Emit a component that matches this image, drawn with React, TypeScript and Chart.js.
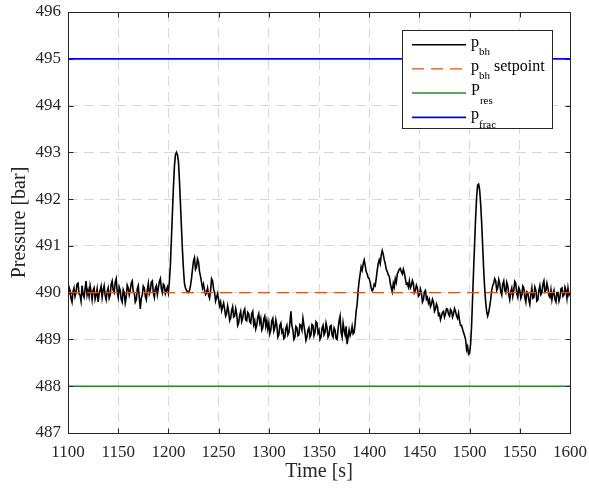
import React, { useEffect, useRef } from "react";
import { Chart, registerables } from "chart.js";

Chart.register(...registerables);

// ---- data ----
const timeStart = 1100;
const timeStep = 1;
const pBh = [
  // 1100
  489.85, 490.12, 490.05, 489.88, 489.8, 490.02, 490.1, 489.92, 490.0, 490.18,
  490.2, 489.98, 489.95, 489.82, 490.15, 489.96, 489.9, 490.08, 490.25, 489.95,
  // 1120
  490.05, 489.92, 490.15, 490.02, 489.85, 490.05, 490.1, 489.86, 489.95, 490.08,
  489.8, 489.98, 490.05, 490.14, 489.9, 490.06, 490.15, 489.94, 489.85, 490.02,
  // 1140
  490.1, 489.88, 489.95, 490.18, 490.25, 490.05, 490.0, 490.22, 490.3, 490.02,
  489.9, 490.12, 490.05, 489.86, 489.8, 490.06, 490.0, 489.78, 489.9, 490.16,
  // 1160
  490.1, 489.95, 490.05, 490.2, 490.25, 490.02, 490.0, 489.8, 489.85, 490.08,
  490.15, 489.9, 489.65, 489.88, 489.95, 490.14, 490.1, 489.92, 489.85, 490.06,
  // 1180
  490.2, 489.98, 490.05, 490.22, 490.25, 490.0, 489.9, 490.1, 490.15, 489.96,
  490.1, 490.24, 490.3, 490.08, 490.0, 490.18, 490.15, 489.98, 490.05, 490.12,
  // 1200
  490.0, 490.25, 490.6, 491.15, 491.7, 492.25, 492.7, 492.95, 493.0, 492.95,
  492.8, 492.4, 491.9, 491.4, 490.9, 490.5, 490.2, 490.1, 490.05, 490.02,
  // 1220
  490.0, 490.05, 490.15, 490.3, 490.5, 490.68, 490.75, 490.5, 490.55, 490.72,
  490.65, 490.45, 490.35, 490.22, 490.1, 490.18, 490.05, 489.96, 490.0, 490.1,
  // 1240
  489.95, 489.88, 490.05, 490.3, 490.25, 490.08, 490.0, 489.82, 489.9, 489.98,
  489.85, 489.72, 489.8, 489.62, 489.7, 489.78, 489.65, 489.5, 489.55, 489.72,
  // 1260
  489.6, 489.4, 489.45, 489.62, 489.7, 489.48, 489.5, 489.66, 489.55, 489.3,
  489.35, 489.52, 489.6, 489.38, 489.45, 489.6, 489.65, 489.42, 489.4, 489.58,
  // 1280
  489.55, 489.38, 489.35, 489.55, 489.6, 489.32, 489.4, 489.22, 489.3, 489.48,
  489.55, 489.36, 489.45, 489.2, 489.25, 489.44, 489.5, 489.28, 489.4, 489.22,
  // 1300
  489.35, 489.12, 489.2, 489.4, 489.45, 489.18, 489.25, 489.42, 489.3, 489.05,
  489.1, 489.3, 489.35, 489.15, 489.2, 489.02, 489.05, 489.24, 489.3, 489.1,
  // 1320
  489.15, 489.35, 489.6, 489.3, 489.2, 489.0, 489.05, 489.28, 489.25, 489.08,
  489.1, 489.32, 489.3, 489.2, 489.45, 489.3, 489.15, 488.98, 489.05, 489.2,
  // 1340
  489.25, 489.05, 489.1, 489.32, 489.3, 489.08, 489.15, 489.38, 489.35, 489.14,
  489.2, 489.0, 489.05, 489.24, 489.3, 489.1, 489.15, 489.35, 489.25, 489.05,
  // 1360
  489.1, 489.28, 489.3, 489.1, 489.05, 489.25, 489.2, 489.02, 489.0, 489.22,
  489.4, 489.5, 489.15, 489.05, 489.35, 489.2, 489.1, 489.28, 488.9, 489.05,
  // 1380
  489.2, 489.08, 489.15, 489.28, 489.12, 489.15, 489.35, 489.6, 489.75, 490.05,
  490.25, 490.4, 490.55, 490.48, 490.62, 490.7, 490.58, 490.45, 490.4, 490.32,
  // 1400
  490.3, 490.22, 490.1, 490.04, 490.08, 490.18, 490.15, 490.3, 490.48, 490.62,
  490.7, 490.62, 490.8, 490.9, 490.82, 490.7, 490.62, 490.5, 490.45, 490.38,
  // 1420
  490.35, 490.2, 490.1, 490.02, 490.2, 490.12, 490.3, 490.22, 490.4, 490.45,
  490.5, 490.52, 490.45, 490.4, 490.5, 490.42, 490.3, 490.18, 490.2, 490.12,
  // 1440
  490.25, 490.1, 490.15, 490.26, 490.2, 490.0, 490.05, 490.16, 490.1, 489.92,
  489.95, 490.08, 490.0, 489.8, 489.85, 490.02, 490.05, 489.86, 489.9, 489.78,
  // 1460
  489.85, 489.7, 489.75, 489.86, 489.8, 489.6, 489.65, 489.76, 489.7, 489.52,
  489.55, 489.42, 489.5, 489.58, 489.6, 489.48, 489.55, 489.66, 489.65, 489.54,
  // 1480
  489.5, 489.64, 489.6, 489.48, 489.55, 489.66, 489.6, 489.5, 489.45, 489.56,
  489.4, 489.3, 489.3, 489.22, 489.15, 489.08, 489.0, 488.78, 488.85, 488.68,
  // 1500
  488.7, 488.9, 489.3, 489.9, 490.5, 491.05, 491.6, 492.05, 492.3, 492.32,
  492.2, 491.9, 491.5, 491.0, 490.5, 490.1, 489.8, 489.6, 489.5, 489.58,
  // 1520
  489.7, 489.85, 490.05, 490.15, 490.2, 490.3, 490.25, 490.05, 490.1, 490.28,
  490.2, 490.02, 489.95, 490.18, 490.25, 490.05, 490.0, 490.22, 490.15, 489.96,
  // 1540
  489.85, 490.02, 490.1, 489.92, 490.05, 490.24, 490.2, 489.98, 489.9, 490.1,
  490.05, 489.88, 489.95, 490.14, 490.1, 489.9, 489.8, 490.02, 490.0, 489.84,
  // 1560
  489.75, 489.96, 490.1, 489.88, 489.9, 490.12, 490.05, 489.82, 489.85, 490.05,
  490.15, 489.96, 490.0, 490.18, 490.25, 490.02, 490.05, 490.2, 490.1, 489.94,
  // 1580
  489.9, 490.06, 489.85, 489.98, 490.05, 489.86, 489.8, 490.0, 490.0, 489.82,
  489.9, 490.08, 490.1, 489.92, 489.95, 490.12, 490.05, 489.88, 490.1, 489.95,
  // 1600
  490.0,
];
const pBhSetpoint = 490;
const pRes = 488;
const pFrac = 495;
const xRange = [1100, 1600];
const yRange = [487, 496];
const xTickStep = 50;
const yTickStep = 1;
const xTitle = "Time [s]";
const yTitle = "Pressure [bar]";
const legendItems = [
  { main: "p", sub: "bh", rest: "" },
  { main: "p", sub: "bh", rest: " setpoint" },
  { main: "P", sub: "res", rest: "" },
  { main: "p", sub: "frac", rest: "" },
];

const COLORS = ["#000000", "#D95319", "#2A862A", "#0000FF"];
const WIDTHS = [1.6, 1.3, 1.5, 1.8];
const DASHES: number[][] = [[], [12, 7], [], []];
const SERIF = "'Liberation Serif', 'Times New Roman', serif";
const AXIS_COLOR = "#262626";

const framePlugin = {
  id: "frame",
  afterDraw(chart: any) {
    const { ctx, chartArea: a, scales } = chart;
    const L = Math.round(a.left) + 0.5;
    const R = Math.round(a.right) + 0.5;
    const T = Math.round(a.top) + 0.5;
    const B = Math.round(a.bottom) + 0.5;
    ctx.save();
    ctx.strokeStyle = AXIS_COLOR;
    ctx.lineWidth = 1;
    ctx.setLineDash([]);
    ctx.strokeRect(L, T, R - L, B - T);
    ctx.beginPath();
    const tl = 5;
    for (const t of scales.x.ticks) {
      const px = Math.round(scales.x.getPixelForValue(t.value)) + 0.5;
      ctx.moveTo(px, B);
      ctx.lineTo(px, B - tl);
      ctx.moveTo(px, T);
      ctx.lineTo(px, T + tl);
    }
    for (const t of scales.y.ticks) {
      const py = Math.round(scales.y.getPixelForValue(t.value)) + 0.5;
      ctx.moveTo(L, py);
      ctx.lineTo(L + tl, py);
      ctx.moveTo(R, py);
      ctx.lineTo(R - tl, py);
    }
    ctx.stroke();

    // axis titles
    ctx.fillStyle = AXIS_COLOR;
    ctx.font = `20px ${SERIF}`;
    ctx.textAlign = "center";
    ctx.textBaseline = "middle";
    ctx.fillText(xTitle, (a.left + a.right) / 2, 472);
    ctx.save();
    ctx.translate(20, (a.top + a.bottom) / 2);
    ctx.rotate(-Math.PI / 2);
    ctx.fillText(yTitle, 0, 0);
    ctx.restore();

    // legend
    const bx = 402.5, by = 30.5, bw = 150, bh = 98;
    ctx.fillStyle = "#ffffff";
    ctx.fillRect(bx, by, bw, bh);
    ctx.strokeStyle = AXIS_COLOR;
    ctx.lineWidth = 1;
    ctx.strokeRect(bx, by, bw, bh);
    ctx.textAlign = "left";
    ctx.textBaseline = "alphabetic";
    legendItems.forEach((item, i) => {
      const ly = 44.7 + i * 24.2;
      ctx.beginPath();
      ctx.strokeStyle = COLORS[i];
      ctx.lineWidth = WIDTHS[i];
      ctx.setLineDash(DASHES[i]);
      ctx.moveTo(412, ly);
      ctx.lineTo(466, ly);
      ctx.stroke();
      ctx.setLineDash([]);
      ctx.fillStyle = "#000000";
      let x = 471;
      ctx.font = `16px ${SERIF}`;
      ctx.fillText(item.main, x, ly + 2);
      x += ctx.measureText(item.main).width;
      ctx.font = `11px ${SERIF}`;
      ctx.fillText(item.sub, x, ly + 10.5);
      x += ctx.measureText(item.sub).width;
      if (item.rest) {
        ctx.font = `16px ${SERIF}`;
        ctx.fillText(item.rest, x, ly + 2);
      }
    });
    ctx.restore();
  },
};

export default function App() {
  const ref = useRef<HTMLCanvasElement>(null);
  useEffect(() => {
    if (!ref.current) return;
    const bhPoints = pBh.map((v, i) => ({ x: timeStart + i * timeStep, y: v }));
    const flat = (v: number) => [
      { x: xRange[0], y: v },
      { x: xRange[1], y: v },
    ];
    const mk = (label: string, data: any[], i: number, order: number) => ({
      label,
      data,
      borderColor: COLORS[i],
      borderWidth: WIDTHS[i],
      borderDash: DASHES[i],
      pointRadius: 0,
      fill: false,
      tension: 0,
      order,
    });
    const chart = new Chart(ref.current, {
      type: "line",
      data: {
        datasets: [
          mk("p_bh", bhPoints, 0, 2),
          mk("p_bh setpoint", flat(pBhSetpoint), 1, 1),
          mk("P_res", flat(pRes), 2, 1),
          mk("p_frac", flat(pFrac), 3, 1),
        ],
      },
      options: {
        animation: false,
        responsive: false,
        layout: { padding: { left: 0, top: 12, right: 19, bottom: 0 } },
        plugins: { legend: { display: false }, tooltip: { enabled: false } },
        scales: {
          x: {
            type: "linear",
            min: xRange[0],
            max: xRange[1],
            afterFit: (s: any) => {
              s.height = 56;
              s.paddingLeft = 0;
              s.paddingRight = 0;
            },
            ticks: {
              stepSize: xTickStep,
              autoSkip: false,
              maxRotation: 0,
              padding: 9,
              color: AXIS_COLOR,
              font: { family: SERIF, size: 17 },
              callback: (v: any) => String(v),
            },
            grid: { color: "#d9d9d9", lineWidth: 1, drawTicks: false },
            border: { display: false, dash: [10, 6] },
          },
          y: {
            type: "linear",
            min: yRange[0],
            max: yRange[1],
            afterFit: (s: any) => {
              s.width = 68;
              s.paddingTop = 0;
              s.paddingBottom = 0;
            },
            ticks: {
              stepSize: yTickStep,
              padding: 7,
              color: AXIS_COLOR,
              font: { family: SERIF, size: 17 },
              callback: (v: any) => String(v),
            },
            grid: { color: "#d9d9d9", lineWidth: 1, drawTicks: false },
            border: { display: false, dash: [10, 6] },
          },
        },
      },
      plugins: [framePlugin],
    });
    return () => chart.destroy();
  }, []);
  return (
    <div style={{ position: "fixed", left: 0, top: 0, width: 589, height: 489, background: "#fff" }}>
      <canvas ref={ref} width={589} height={489} style={{ display: "block" }} />
    </div>
  );
}
